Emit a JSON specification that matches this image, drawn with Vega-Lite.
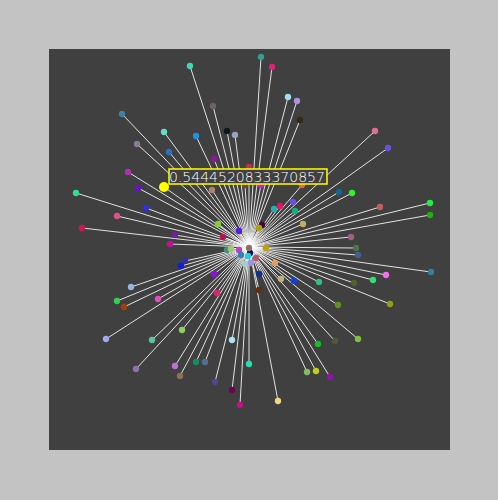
{
  "$schema": "https://vega.github.io/schema/vega-lite/v6.json",
  "autosize": "none",
  "width": 401,
  "height": 401,
  "padding": {"left": 49, "top": 49, "right": 48, "bottom": 50},
  "background": "#c3c3c3",
  "view": {"fill": "#404040", "stroke": null},
  "datasets": {
    "pts": [
      {"id": 1, "x": -59, "y": 181}, {"id": 2, "x": -36, "y": 141}, {"id": 3, "x": -127, "y": 133},
      {"id": 4, "x": -22, "y": 116}, {"id": 5, "x": -14, "y": 112}, {"id": 6, "x": -85, "y": 115},
      {"id": 7, "x": -53, "y": 111}, {"id": 8, "x": -112, "y": 103}, {"id": 9, "x": -80, "y": 95},
      {"id": 10, "x": -35, "y": 88}, {"id": 11, "x": 0, "y": 80}, {"id": 12, "x": -121, "y": 75},
      {"id": 13, "x": -111, "y": 59}, {"id": 14, "x": -37, "y": 57}, {"id": 15, "x": -4, "y": 62},
      {"id": 16, "x": -173, "y": 54}, {"id": 17, "x": -103, "y": 39}, {"id": 18, "x": -132, "y": 31},
      {"id": 19, "x": -31, "y": 23}, {"id": 20, "x": -167, "y": 19}, {"id": 21, "x": -10, "y": 16},
      {"id": 22, "x": -26, "y": 10}, {"id": 23, "x": -74, "y": 12}, {"id": 24, "x": -79, "y": 3},
      {"id": 25, "x": -22, "y": -3}, {"id": 26, "x": -18, "y": -2}, {"id": 27, "x": -10, "y": -3},
      {"id": 28, "x": 12, "y": 190}, {"id": 29, "x": 23, "y": 180}, {"id": 30, "x": 39, "y": 150},
      {"id": 31, "x": 48, "y": 146}, {"id": 32, "x": 51, "y": 127}, {"id": 33, "x": 126, "y": 116},
      {"id": 34, "x": 139, "y": 99}, {"id": 35, "x": 12, "y": 62}, {"id": 36, "x": 53, "y": 62},
      {"id": 37, "x": 90, "y": 55}, {"id": 38, "x": 103, "y": 54}, {"id": 39, "x": 44, "y": 45},
      {"id": 40, "x": 31, "y": 41}, {"id": 41, "x": 25, "y": 38}, {"id": 42, "x": 46, "y": 36},
      {"id": 43, "x": 131, "y": 40}, {"id": 44, "x": 181, "y": 44}, {"id": 45, "x": 181, "y": 32},
      {"id": 46, "x": 13, "y": 22}, {"id": 47, "x": 10, "y": 19}, {"id": 48, "x": 54, "y": 23},
      {"id": 49, "x": 102, "y": 10}, {"id": 50, "x": 107, "y": -1}, {"id": 51, "x": 17, "y": -1},
      {"id": 52, "x": -64, "y": -14}, {"id": 53, "x": -68, "y": -19}, {"id": 54, "x": -35, "y": -27},
      {"id": 55, "x": -8, "y": -8}, {"id": 56, "x": -4, "y": -17}, {"id": 57, "x": -118, "y": -40},
      {"id": 58, "x": -132, "y": -54}, {"id": 59, "x": -125, "y": -60}, {"id": 60, "x": -91, "y": -52},
      {"id": 61, "x": -32, "y": -46}, {"id": 62, "x": -143, "y": -92}, {"id": 63, "x": -97, "y": -93},
      {"id": 64, "x": -67, "y": -83}, {"id": 65, "x": -17, "y": -93}, {"id": 66, "x": -113, "y": -122},
      {"id": 67, "x": -74, "y": -119}, {"id": 68, "x": -53, "y": -115}, {"id": 69, "x": -44, "y": -115},
      {"id": 70, "x": -69, "y": -129}, {"id": 71, "x": -34, "y": -135}, {"id": 72, "x": -17, "y": -143},
      {"id": 73, "x": -9, "y": -158}, {"id": 74, "x": 0, "y": -117}, {"id": 75, "x": 1, "y": -6},
      {"id": 76, "x": 7, "y": -11}, {"id": 77, "x": 2, "y": -16}, {"id": 78, "x": 109, "y": -8},
      {"id": 79, "x": 182, "y": -25}, {"id": 80, "x": 137, "y": -28}, {"id": 81, "x": 124, "y": -33},
      {"id": 82, "x": 105, "y": -36}, {"id": 83, "x": 70, "y": -35}, {"id": 84, "x": 45, "y": -34},
      {"id": 85, "x": 32, "y": -32}, {"id": 86, "x": 26, "y": -16}, {"id": 87, "x": 10, "y": -27},
      {"id": 88, "x": 10, "y": -43}, {"id": 89, "x": 89, "y": -58}, {"id": 90, "x": 141, "y": -57},
      {"id": 91, "x": 109, "y": -92}, {"id": 92, "x": 86, "y": -94}, {"id": 93, "x": 69, "y": -97},
      {"id": 94, "x": 58, "y": -125}, {"id": 95, "x": 67, "y": -124}, {"id": 96, "x": 81, "y": -130},
      {"id": 97, "x": 29, "y": -154}, {"id": 98, "x": 0, "y": -1}, {"id": 99, "x": -1, "y": -9},
      {"id": 100, "x": -85, "y": 60, "value": 0.5444520833370857, "selected": true}
    ]
  },
  "data": {"name": "pts"},
  "layer": [
    {
      "mark": {"type": "rule", "color": "#ffffff", "strokeWidth": 1, "opacity": 0.85},
      "encoding": {
        "x": {"field": "x", "type": "quantitative", "axis": null, "scale": {"domain": [-200, 201], "nice": false, "zero": false}},
        "y": {"field": "y", "type": "quantitative", "axis": null, "scale": {"domain": [-203, 198], "nice": false, "zero": false}},
        "x2": {"datum": 0},
        "y2": {"datum": 0}
      }
    },
    {
      "transform": [{"filter": "datum.id < 100"}],
      "mark": {"type": "circle", "size": 40, "opacity": 1},
      "encoding": {
        "x": {"field": "x", "type": "quantitative"},
        "y": {"field": "y", "type": "quantitative"},
        "color": {
          "field": "id", "type": "ordinal", "legend": null,
          "scale": {
            "domain": [1,2,3,4,5,6,7,8,9,10,11,12,13,14,15,16,17,18,19,20,21,22,23,24,25,26,27,28,29,30,31,32,33,34,35,36,37,38,39,40,41,42,43,44,45,46,47,48,49,50,51,52,53,54,55,56,57,58,59,60,61,62,63,64,65,66,67,68,69,70,71,72,73,74,75,76,77,78,79,80,81,82,83,84,85,86,87,88,89,90,91,92,93,94,95,96,97,98,99],
            "range": ["#40d8b0","#6e6262","#3f7fa8","#0a1a20","#9aa4c0","#60e0c8","#2090e0","#8a7a98","#2a70c0","#8a1a9a","#c03050","#b030b0","#6a10d0","#b08070","#704a20","#30e090","#3030e0","#e0508a","#80d030","#d01850","#5020e0","#c01050","#7020a0","#c010a0","#409080","#a0c870","#c040c0","#30a090","#e0207a","#a0e0f0","#b090e0","#302a10","#e07090","#6a50e0","#e010f0","#f06040","#106890","#30f030","#6a50e0","#f01060","#20b0b0","#10b080","#c06060","#20f040","#20b010","#400a30","#b0a010","#c0b060","#a06080","#507050","#c0a000","#3030a0","#1020d0","#9010e0","#3080c0","#a0d0c8","#90b8e0","#30d050","#a04010","#e050c0","#e02070","#a0a8f0","#60c0a0","#90d060","#b0e0f0","#9070b0","#c070d0","#109060","#507090","#907050","#504890","#700050","#c0108a","#20e0b0","#101060","#b05870","#a090e0","#406090","#3080a0","#f070f0","#30e070","#506030","#30c080","#1040e0","#c0b080","#e0a060","#103090","#603010","#609020","#90a010","#80c040","#505838","#10c020","#80c060","#c0d010","#9010b0","#f0d880","#907060","#20d0e0"]
          }
        }
      }
    },
    {
      "transform": [{"filter": "datum.selected"}],
      "mark": {"type": "circle", "size": 100, "color": "#ffff00", "opacity": 1},
      "encoding": {
        "x": {"field": "x", "type": "quantitative"},
        "y": {"field": "y", "type": "quantitative"}
      }
    },
    {
      "transform": [{"filter": "datum.selected"}],
      "mark": {"type": "rect", "fill": "#404040", "fillOpacity": 1, "stroke": "#ffff00", "strokeWidth": 1.5, "xOffset": 5, "x2Offset": 163, "yOffset": -3, "y2Offset": -18},
      "encoding": {
        "x": {"field": "x", "type": "quantitative"},
        "x2": {"field": "x"},
        "y": {"field": "y", "type": "quantitative"},
        "y2": {"field": "y"}
      }
    },
    {
      "transform": [{"filter": "datum.selected"}],
      "mark": {"type": "text", "align": "left", "baseline": "alphabetic", "dx": 5, "dy": -5, "font": "DejaVu Sans", "fontSize": 14, "fontWeight": 300, "fill": "#ffffff", "fillOpacity": 1, "opacity": 1},
      "encoding": {
        "x": {"field": "x", "type": "quantitative"},
        "y": {"field": "y", "type": "quantitative"},
        "text": {"field": "value", "type": "nominal"}
      }
    }
  ]
}
